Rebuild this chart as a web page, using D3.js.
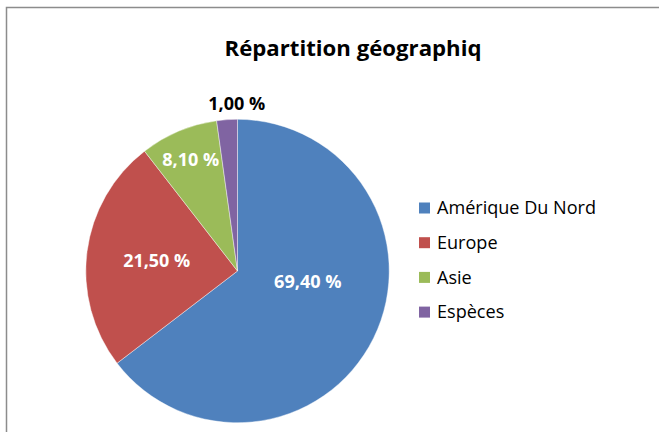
<!DOCTYPE html>
<html><head><meta charset="utf-8">
<script src="https://cdn.jsdelivr.net/npm/d3@7"></script>
<style>body{margin:0;background:#fff}svg{display:block}</style>
</head><body>
<script>
const categories = ["Amérique Du Nord", "Europe", "Asie", "Espèces"];
const shares = [64.6, 24.9, 8.3, 2.2];          // slice sizes as drawn
const valueLabels = ["69,40 %", "21,50 %", "8,10 %", "1,00 %"];
const colors = ["#4F81BD", "#C0504D", "#9BBB59", "#8064A2"];
const title = "Répartition géographiq";

const W = 659, H = 432;
const FONT = "'Open Sans', 'Liberation Sans', sans-serif";
const svg = d3.select("body").append("svg").attr("width", W).attr("height", H);
svg.append("rect").attr("width", W).attr("height", H).attr("fill", "#fff");
// frame (cut off at right/bottom)
svg.append("rect").attr("x", 6.5).attr("y", 7.5).attr("width", W + 10).attr("height", H + 10)
  .attr("fill", "none").attr("stroke", "#8c8c8c").attr("stroke-width", 1.5);

function fit(sel, target) {
  const fs = parseFloat(sel.attr("font-size"));
  const w = sel.node().getComputedTextLength();
  sel.attr("font-size", (fs * target / w).toFixed(2));
}

const t = svg.append("text").attr("x", 353).attr("y", 56).attr("text-anchor", "middle")
  .attr("font-family", FONT).attr("font-weight", "bold").attr("font-size", 20)
  .attr("fill", "#000").text(title);
fit(t, 257);

const cx = 237.5, cy = 271, R = 151.7;
const pie = d3.pie().sort(null).value(d => d)(shares);
const arc = d3.arc().innerRadius(0).outerRadius(R);
const g = svg.append("g").attr("transform", `translate(${cx},${cy})`);
g.selectAll("path").data(pie).join("path")
  .attr("d", arc).attr("fill", (d, i) => colors[i])
  .attr("stroke", "#fff").attr("stroke-width", 0.6).attr("stroke-opacity", 0.7);

// label placement: radial fraction, and angle shift (deg) from slice bisector
const labelR = [0.469, 0.537, 0.794, 1.105];
const labelShift = [-17.4, 0, 0, 3.7];
const labelW = [67.5, 67, 57, 57];
pie.forEach((d, i) => {
  const a = (d.startAngle + d.endAngle) / 2 + labelShift[i] * Math.PI / 180;
  const r = R * labelR[i];
  const x = Math.sin(a) * r, y = -Math.cos(a) * r;
  const lt = g.append("text").attr("x", x).attr("y", y).attr("dy", "0.35em")
    .attr("text-anchor", "middle").attr("font-family", FONT).attr("font-weight", "bold")
    .attr("font-size", 16).attr("fill", i === 3 ? "#000" : "#fff").text(valueLabels[i]);
  fit(lt, labelW[i]);
});

// legend
const lg = svg.append("g").attr("transform", "translate(419,208)");
categories.forEach((c, i) => {
  const row = lg.append("g").attr("transform", `translate(0,${i * 34.7})`);
  row.append("rect").attr("x", 0).attr("y", -5.5).attr("width", 11).attr("height", 11).attr("fill", colors[i]);
  const tx = row.append("text").attr("x", 18).attr("y", 0).attr("dy", "0.35em")
    .attr("font-family", FONT).attr("font-size", 17).attr("fill", "#000").text(c);
  if (i === 0) fit(tx, 159);
});
const fs0 = lg.select("text").attr("font-size");
lg.selectAll("text").attr("font-size", fs0);
</script>
</body></html>
